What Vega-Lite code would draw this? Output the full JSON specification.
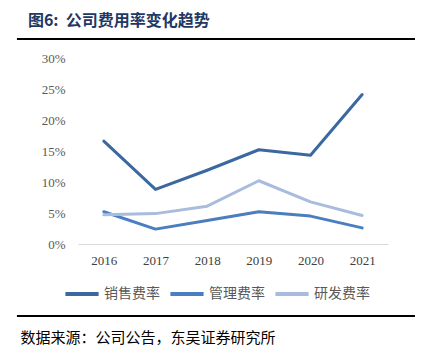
{
  "$schema": "https://vega.github.io/schema/vega-lite/v6.json",
  "width": 310,
  "height": 186,
  "autosize": {"type": "none"},
  "padding": {"left": 78, "top": 58, "right": 35, "bottom": 115},
  "background": "white",
  "config": {
    "view": {"stroke": null},
    "axisY": {
      "title": null,
      "values": [0, 5, 10, 15, 20, 25, 30],
      "labelExpr": "datum.value + '%'",
      "labelOverlap": false,
      "labelFont": "Liberation Serif",
      "labelFontSize": 13,
      "labelColor": "#595959",
      "labelPadding": 13,
      "ticks": false,
      "domain": false,
      "grid": false
    }
  },
  "title": {
    "text": "图6:\u00a0\u00a0公司费用率变化趋势",
    "anchor": "start",
    "dx": 12,
    "offset": 9,
    "font": "Noto Sans CJK SC",
    "fontSize": 16,
    "fontWeight": "bold",
    "color": "#1F3864"
  },
  "layer": [
    {
      "data": {"values": [
        {"year": "2016", "series": "销售费率", "value": 16.6},
        {"year": "2017", "series": "销售费率", "value": 8.8},
        {"year": "2018", "series": "销售费率", "value": 11.9},
        {"year": "2019", "series": "销售费率", "value": 15.2},
        {"year": "2020", "series": "销售费率", "value": 14.3},
        {"year": "2021", "series": "销售费率", "value": 24.1},
        {"year": "2016", "series": "管理费率", "value": 5.2},
        {"year": "2017", "series": "管理费率", "value": 2.4},
        {"year": "2018", "series": "管理费率", "value": 3.8},
        {"year": "2019", "series": "管理费率", "value": 5.2},
        {"year": "2020", "series": "管理费率", "value": 4.5},
        {"year": "2021", "series": "管理费率", "value": 2.6},
        {"year": "2016", "series": "研发费率", "value": 4.7},
        {"year": "2017", "series": "研发费率", "value": 4.9},
        {"year": "2018", "series": "研发费率", "value": 6.1},
        {"year": "2019", "series": "研发费率", "value": 10.2},
        {"year": "2020", "series": "研发费率", "value": 6.8},
        {"year": "2021", "series": "研发费率", "value": 4.6}
      ]},
      "mark": {"type": "line", "strokeWidth": 3, "strokeCap": "round", "strokeJoin": "round"},
      "encoding": {
        "x": {
          "field": "year", "type": "ordinal",
          "scale": {"type": "point", "padding": 0.5},
          "axis": {
            "title": "数据来源：公司公告，东吴证券研究所",
            "titleFont": "Noto Sans CJK SC",
            "titleFontSize": 15,
            "titleFontWeight": "normal",
            "titleColor": "#000000",
            "titleAnchor": "start",
            "titleAlign": "left",
            "titleBaseline": "middle",
            "titleX": -58,
            "titleY": 93,
            "labelAngle": 0,
            "labelFont": "Liberation Serif",
            "labelFontSize": 13,
            "labelColor": "#404040",
            "labelPadding": 10,
            "ticks": false,
            "domainColor": "#D9D9D9",
            "domainWidth": 1,
            "grid": false
          }
        },
        "y": {
          "field": "value", "type": "quantitative",
          "scale": {"domain": [0, 30], "nice": false, "zero": true},
          "axis": {"values": [0, 5, 10, 15, 20, 25, 30], "labelOverlap": false}
        },
        "color": {
          "field": "series", "type": "nominal",
          "scale": {"domain": ["销售费率", "管理费率", "研发费率"], "range": ["#3B68A0", "#4A7EC0", "#A9BCDD"]},
          "legend": {
            "title": null,
            "orient": "none",
            "direction": "horizontal",
            "legendX": -15,
            "legendY": 217,
            "symbolType": "stroke",
            "symbolSize": 1100,
            "symbolStrokeWidth": 4,
            "labelFont": "Noto Sans CJK SC",
            "labelFontSize": 14,
            "labelColor": "#595959",
            "labelOffset": 3,
            "columnPadding": 2
          }
        }
      }
    },
    {
      "data": {"values": [{}]},
      "mark": {"type": "rule", "color": "#000000", "strokeWidth": 2, "clip": false},
      "encoding": {
        "x": {"datum": -0.197, "type": "quantitative", "scale": {"domain": [0, 1], "nice": false, "zero": false}, "axis": null},
        "x2": {"datum": 1.087},
        "y": {"datum": 33.06, "type": "quantitative", "axis": {"values": [0, 5, 10, 15, 20, 25, 30], "labelOverlap": false}}
      }
    },
    {
      "data": {"values": [{}]},
      "mark": {"type": "rule", "color": "#000000", "strokeWidth": 2, "clip": false},
      "encoding": {
        "x": {"datum": -0.197, "type": "quantitative", "scale": {"domain": [0, 1], "nice": false, "zero": false}, "axis": null},
        "x2": {"datum": 1.087},
        "y": {"datum": -11.61, "type": "quantitative", "axis": {"values": [0, 5, 10, 15, 20, 25, 30], "labelOverlap": false}}
      }
    }
  ],
  "resolve": {"scale": {"x": "independent"}}
}
